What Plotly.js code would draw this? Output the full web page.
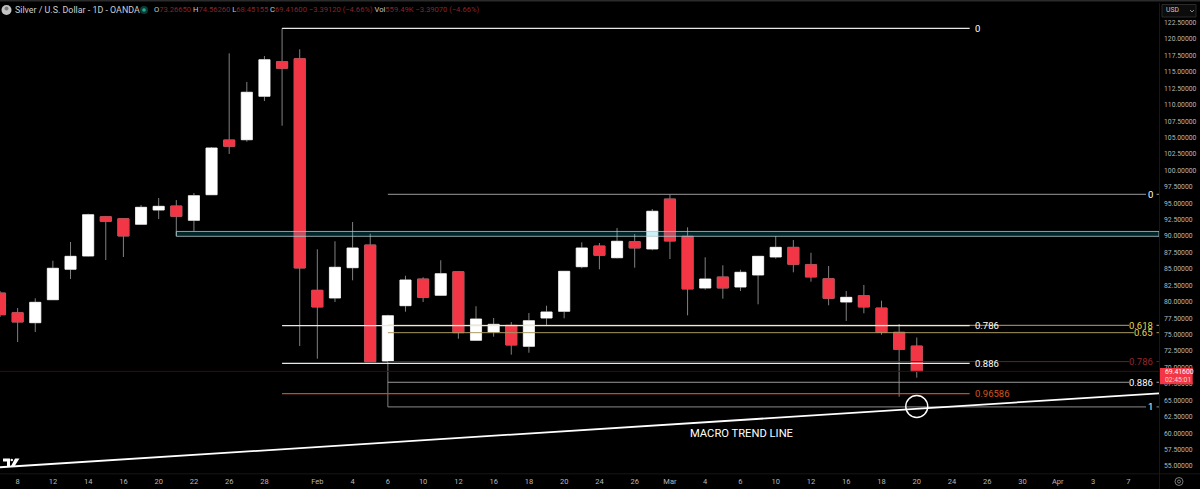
<!DOCTYPE html>
<html><head><meta charset="utf-8">
<script src="https://cdn.plot.ly/plotly-3.0.1.min.js"></script>
<style>html,body{margin:0;padding:0;background:#000;overflow:hidden}#c{width:1200px;height:489px}</style>
</head><body><div id="c"></div>
<script>
const opens=[81.34,78.34,76.82,80.32,84.95,86.97,92.95,92.65,91.80,93.97,94.58,92.40,96.30,104.63,104.67,111.28,116.55,117.00,81.75,80.58,85.19,88.65,70.99,79.41,83.47,80.99,84.58,74.14,75.40,76.42,73.22,77.53,78.55,85.34,88.49,86.71,89.15,88.04,95.65,89.97,82.10,83.78,82.25,84.08,86.82,88.29,85.65,83.51,79.97,80.93,79.05,75.36,73.2665];
const highs=[81.64,79.05,80.53,86.25,89.10,93.41,93.06,92.75,94.73,95.80,95.49,96.56,103.56,117.82,113.46,117.41,121.63,118.43,87.99,89.21,92.15,90.37,78.03,83.97,83.73,86.32,84.69,79.32,77.53,76.92,78.29,79.41,84.69,89.05,88.95,91.23,90.32,94.12,96.36,91.34,86.77,85.55,84.88,86.97,89.97,89.41,87.47,85.45,81.64,82.56,80.17,76.62,74.5626];
const lows=[77.69,73.88,75.40,80.27,83.47,86.89,86.36,86.82,91.76,92.60,90.01,90.78,96.25,102.50,104.37,110.56,106.80,73.27,71.34,79.97,83.27,70.84,63.99,78.49,79.97,80.96,74.38,74.03,74.69,71.95,72.25,76.32,77.49,85.10,84.95,86.62,85.19,87.84,86.51,77.94,81.84,80.47,81.64,79.62,86.56,84.49,83.06,79.47,77.08,78.25,74.99,65.55,68.4516];
const closes=[78.03,76.92,79.92,85.10,86.92,93.26,92.25,90.01,94.38,94.53,93.01,96.15,103.41,103.67,111.89,116.85,115.54,85.14,79.21,85.25,88.19,70.88,77.88,83.32,80.68,84.28,75.30,77.38,76.57,73.42,77.12,78.45,84.64,88.19,87.08,89.21,88.19,93.78,89.25,81.95,83.47,82.10,84.49,86.92,88.29,85.71,83.78,80.53,80.68,79.21,75.36,72.77,69.416];
const tickIdx=[1,3,5,7,9,11,13,15,18,20,22,24,26,28,30,32,34,36,38,40,42,44,46,48,50,52,54,56,58,60,62,64];
const tickText=['8','12','14','16','20','22','26','28','Feb','4','6','10','12','16','18','20','24','26','Mar','4','6','10','12','16','18','20','24','26','30','Apr','3','7'];
const priceTicks=[55,57.5,60,62.5,65,67.5,70,72.5,75,77.5,80,82.5,85,87.5,90,92.5,95,97.5,100,102.5,105,107.5,110,112.5,115,117.5,120,122.5];
const fibALevels=[121.63,76.36,70.64,66.01];
const fibALabels=['0','0.786','0.886','0.96586'];
const fibAColors=['#e8e8e8','#e8e8e8','#e8e8e8','#d0452a'];
const fibALabelColors=['#ffffff','#ffffff','#ffffff','#d4561e'];
const fibBLevels=[96.36,76.42,75.30,70.90,67.75,64.00];
const fibBLabels=['0','0.618','0.65','0.786','0.886','1'];
const fibBColors=['#9a9a9a','#b5a56a','#a89a60','#6e1d22','#9a9a9a','#8a8a8a'];
const fibBLabelColors=['#ffffff','#e8d84a','#e8d84a','#92282e','#ffffff','#ffffff'];
const fibBGapStart=[1146,1129,1134,1129,1129,1146];
const bandLevels=[89.97,90.71];
const trendX=[0,65.74];
const trendY=[54.82,66.07];
const lastClose=69.416;

const W=1159,T=3,B=474;
const px=x=>x/W, py=y=>(B-y)/(B-T);
const idxAt=x=>x/17.63;
const bodyHigh=opens.map((o,i)=>Math.max(o,closes[i]));
const bodyLow=opens.map((o,i)=>Math.min(o,closes[i]));
const xs=opens.map((_,i)=>i);
const WHITE='#ffffff',RED='#f23645',WICK='#808080';

const traces=[
 {type:'candlestick',x:xs,open:opens,high:highs,low:lows,close:closes,whiskerwidth:0,
  increasing:{line:{color:WICK,width:1},fillcolor:WICK},decreasing:{line:{color:WICK,width:1},fillcolor:WICK},hoverinfo:'skip',showlegend:false},
 {type:'candlestick',x:xs,open:opens,high:bodyHigh,low:bodyLow,close:closes,whiskerwidth:0,
  increasing:{line:{color:WHITE,width:0.5},fillcolor:WHITE},decreasing:{line:{color:RED,width:0.5},fillcolor:RED},hoverinfo:'skip',showlegend:false}
];
const line=(x,y,color,width)=>({type:'scatter',mode:'lines',x,y,line:{color,width},hoverinfo:'skip',showlegend:false,connectgaps:false});
traces.push(line([0,65.74],[lastClose,lastClose],'#3a0e12',1));
fibBLevels.forEach((v,i)=>traces.push(line([22,idxAt(fibBGapStart[i]),null,idxAt(1156.5),65.74],[v,v,null,v,v],fibBColors[i],1)));
fibALevels.forEach((v,i)=>traces.push(line([16,55],[v,v],fibAColors[i],i==3?1.2:1.3)));
traces.push(line(trendX,trendY,'#ffffff',1.8));

const annotations=[];
const ann=(text,x,y,o)=>annotations.push(Object.assign({text,x,y,xref:'paper',yref:'paper',showarrow:false,xanchor:'left',yanchor:'middle',borderpad:0},o));
fibALevels.forEach((v,i)=>ann(fibALabels[i],px(974),v,{yref:'y',font:{family:'Roboto',size:9.5,color:fibALabelColors[i]}}));
fibBLevels.forEach((v,i)=>ann(fibBLabels[i],px(1154),v,{yref:'y',xanchor:'right',font:{family:'Roboto',size:9.5,color:fibBLabelColors[i]}}));
ann('MACRO TREND LINE',px(689),59.88,{yref:'y',font:{family:'Roboto',size:11.2,color:'#ffffff'}});
ann('Silver / U.S. Dollar - 1D - OANDA',px(14),py(10),{font:{family:'Roboto',size:8.9,color:'#cfcfcf'}});
const V='#86262c';
const sp=(s)=>`<span style="color:${V}">${s}</span>`;
ann(`O${sp('73.26650')} H${sp('74.56260')} L${sp('68.45155')} C${sp('69.41600')} ${sp('\u22123.39120 (\u22124.66%)')} Vol${sp('559.49K \u22123.39070 (\u22124.66%)')}`,px(153),py(10),{font:{family:'Roboto',size:7.6,color:'#c8c8c8'}});
ann('USD',px(1165),py(10.5),{font:{family:'Roboto',size:6.8,color:'#c8c8c8'}});
ann('69.41600',px(1164),py(372),{font:{family:'Roboto',size:6.8,color:'#ffffff'}});
ann('02:45:01',px(1164),py(380),{font:{family:'Roboto',size:6.8,color:'#ffd0d4'}});

const paper=(o)=>Object.assign({xref:'paper',yref:'paper',layer:'above'},o);
const rect=(x0,y0,x1,y1,fill,lineColor,lw)=>paper({type:'rect',x0:px(x0),x1:px(x1),y0:py(y0),y1:py(y1),fillcolor:fill||'rgba(0,0,0,0)',line:{color:lineColor||fill,width:lw===undefined?0:lw}});
const circ=(cx,cy,r,fill,lineColor,lw)=>paper({type:'circle',x0:px(cx-r),x1:px(cx+r),y0:py(cy+r),y1:py(cy-r),fillcolor:fill||'rgba(0,0,0,0)',line:{color:lineColor||'rgba(0,0,0,0)',width:lw||0}});
const pathOf=(pts)=>'M'+pts.map(p=>px(p[0]).toFixed(5)+','+py(p[1]).toFixed(5)).join(' L')+' Z';
const shapes=[
 {type:'rect',xref:'x',yref:'y',x0:10,x1:65.74,y0:bandLevels[0],y1:bandLevels[1],fillcolor:'rgba(0,188,212,0.2)',line:{color:'#b4c8cc',width:0.8},layer:'above'},
 {type:'circle',xref:'x',yref:'y',x0:52-0.624,x1:52+0.624,y0:64.07-1.67,y1:64.07+1.67,line:{color:'#ffffff',width:1.4},fillcolor:'rgba(0,0,0,0)',layer:'above'},
 rect(0,0,1200,1.5,'#2b2b2b'),
 rect(1159,3,1159.8,489,'#1e1e1e'),
 rect(0,473.6,1200,474.3,'#1e1e1e'),
 rect(1162,4.5,1196,17,'#0c0c0c','#333333',0.8),
 paper({type:'path',path:'M'+px(1190)+','+py(10)+' L'+px(1192)+','+py(12)+' L'+px(1194)+','+py(10),line:{color:'#aaaaaa',width:0.8}}),
 rect(1160,368,1192.7,384.3,'#f23645'),
 circ(6.5,10,5,'#c4c4c4'),
 circ(6.5,8.5,2,'#7a7a7a'),
 circ(144,10,4,'#0d3b33'),
 circ(144,10,1.8,'#22ab94'),
 circ(1179,481.5,4,null,'#9a9a9a',0.8),
 circ(1179,481.5,1.5,null,'#9a9a9a',0.8),
 paper({type:'path',path:pathOf([[3,458.5],[10,458.5],[10,467],[7,467],[7,461.5],[3,461.5]]),fillcolor:'#ffffff',line:{width:0}}),
 paper({type:'circle',x0:px(10.5),x1:px(13),y0:py(461.3),y1:py(458.8),fillcolor:'#ffffff',line:{width:0}}),
 paper({type:'path',path:pathOf([[15,458.5],[19.5,458.5],[14,467],[10.5,467]]),fillcolor:'#ffffff',line:{width:0}})
];

Plotly.newPlot('c',traces,{
 width:1200,height:489,autosize:false,
 margin:{l:0,r:41,t:T,b:15,pad:0},
 paper_bgcolor:'#000',plot_bgcolor:'#000',showlegend:false,boxgap:0.1,
 xaxis:{range:[0,65.74],type:'linear',tickmode:'array',tickvals:tickIdx,ticktext:tickText,showgrid:false,zeroline:false,showline:false,ticks:'',
  tickfont:{family:'Roboto',size:7.5,color:'#b8b8b8'},rangeslider:{visible:false},automargin:false,ticklabelstandoff:1,tickangle:0},
 yaxis:{range:[120-(B-39)/6.57,120+(39-T)/6.57],side:'right',tickmode:'array',tickvals:priceTicks,ticktext:priceTicks.map(v=>v.toFixed(5)),showgrid:false,zeroline:false,showline:false,ticks:'',
  tickfont:{family:'Roboto',size:6.8,color:'#b8b8b8'},automargin:false,ticklabelstandoff:4},
 annotations,shapes
},{displayModeBar:false,staticPlot:true});
</script></body></html>
